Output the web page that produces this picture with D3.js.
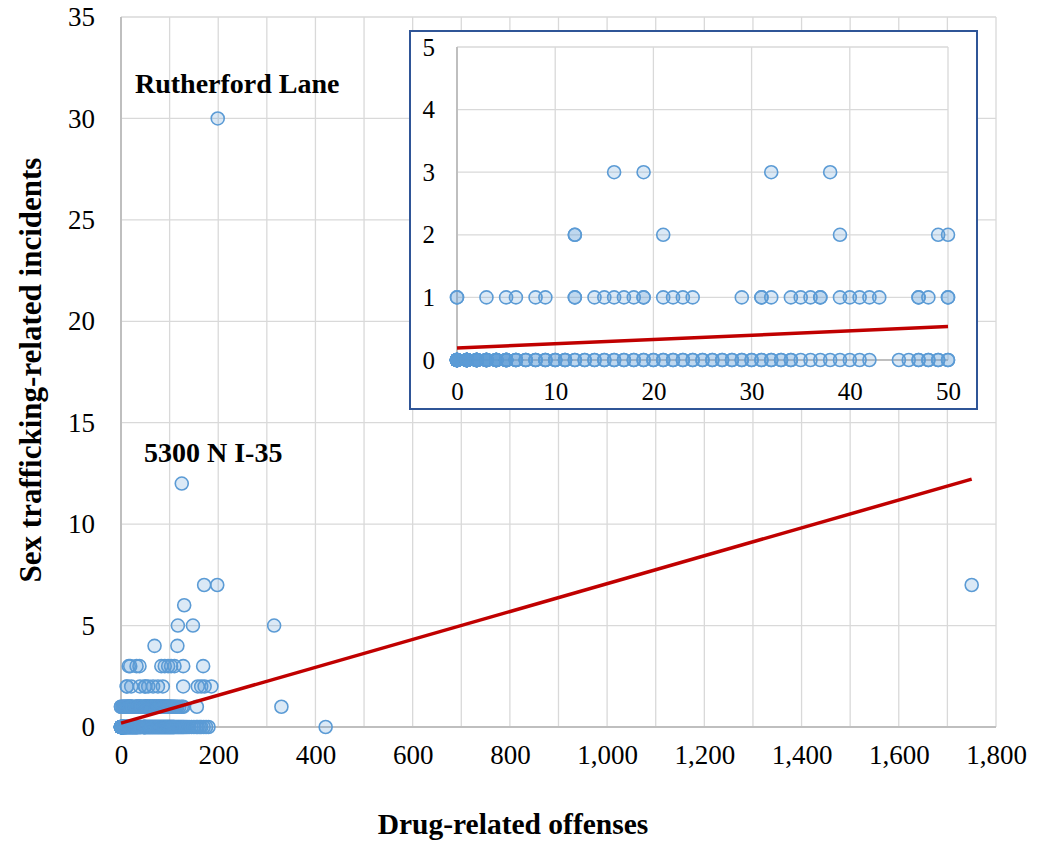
<!DOCTYPE html>
<html>
<head>
<meta charset="utf-8">
<script src="https://cdn.jsdelivr.net/npm/d3@7"></script>
<style>
  html, body { margin: 0; padding: 0; background: #fff; }
  svg { display: block; }
  text { font-family: "Liberation Serif", "Times New Roman", serif; fill: #000; }
</style>
</head>
<body>
<svg id="chart" width="1038" height="843"></svg>
<script>
// ---- Data (drug-related offenses for each level of sex-trafficking incidents) ----
const drugAtZero = [
  0,0,0,0,0,0,0,0,0,0,0,0,0,0,0,0,0,0,0,0,0,0,0,0,0,0,0,0,0,0,
  1,1,1,1,1,1,1,1,1,1,1,1,1,1,1,1,1,1,1,1,
  2,2,2,2,2,2,2,2,2,2,2,2,2,2,2, 3,3,3,3,3,3,3,3,3,3,3,3,
  4,4,4,4,4,4,4,4,4,4, 5,5,5,5,5,5,5,5,
  6,6,6,6, 7,7,7, 8,8,8, 9,9,9, 10,10,10, 11,11,11,
  12,12,13,13,14,14,15,15,16,16,17,17,18,18,19,19,20,20,21,21,22,22,23,23,24,24,
  25,25,26,26,27,27,28,28,29,29,30,30,31,31,32,32,33,33,34,34,
  35,36,37,38,39,40,41,42, 45,46,47,47,48,48,49,49,50,50,
  51,52,53,54,55,56,57,58,59,60,61,62,63,64,65,66,67,68,69,70,71,72,73,74,75,
  76,77,78,79,80,81,82,83,84,85,86,87,88,89,90,91,92,93,94,95,96,97,98,99,100,
  101,102,103,104,105,106,107,108,109,110,112,114,116,118,120,122,124,126,128,130,
  133,136,140,145,150,155,158,162,165,170,175,180, 421
];
const drugAtOne = [
  0,0,3,5,6,8,9,12,12,14,15,16,17,18,19,19,21,22,23,24,29,31,31,32,34,35,36,37,37,
  39,40,41,42,43,47,47,48,50,50,
  51,52,53,54,55,56,57,58,59,60,61,62,63,64,65,66,67,68,69,70,71,72,73,74,75,76,
  77,78,79,80,81,82,83,84,85,86,87,88,89,90,91,92,93,94,95,96,97,98,99,100,
  102,104,106,108,110,113,116,120,125,128,156,330
];
const drugAtTwo = [12,12,21,39,49,50,56,66,76,86,128,158,165,172,186];
const drugAtThree = [16,19,32,38,83,90,97,103,110,128,169];
const drugAtFour = [69,116];
const drugAtFive = [117,148,315];
const drugAtSix = [130];
const drugAtSeven = [171,198,1750];
const drugAtTwelve = [125];
const drugAtThirty = [199];

const incidentLevels = [0,1,2,3,4,5,6,7,12,30];
const drugByLevel = [drugAtZero, drugAtOne, drugAtTwo, drugAtThree, drugAtFour,
                     drugAtFive, drugAtSix, drugAtSeven, drugAtTwelve, drugAtThirty];

// Linear trend line: endpoints
const trendX = [0, 1750];
const trendY = [0.19, 12.22];

// Tick values
const mainXTicks = [0,200,400,600,800,1000,1200,1400,1600,1800];
const mainYTicks = [0,5,10,15,20,25,30,35];
const insetXTicks = [0,10,20,30,40,50];
const insetYTicks = [0,1,2,3,4,5];

// Annotations
const annotations = [
  {text: "Rutherford Lane", x: 135, y: 93},
  {text: "5300 N I-35", x: 144, y: 462}
];

const points = [];
incidentLevels.forEach((lvl, i) => drugByLevel[i].forEach(d => points.push({x: d, y: lvl})));

// ---- Drawing ----
const svg = d3.select("#chart");
const gridColor = "#D9D9D9";
const axisColor = "#BFBFBF";
const markerStroke = "#5B9BD5";
const markerFill = "#5B9BD5";
const markerFillOpacity = 0.22;
const trendColor = "#C00000";

// Main scales
const x = d3.scaleLinear().domain([0, 1800]).range([121, 996]);
const y = d3.scaleLinear().domain([0, 35]).range([727, 17]);

const main = svg.append("g");
main.append("g").selectAll("line").data(d3.range(0, 1801, 100)).join("line")
  .attr("x1", d => x(d)).attr("x2", d => x(d)).attr("y1", y(35)).attr("y2", y(0))
  .attr("stroke", gridColor).attr("stroke-width", 1.3);
main.append("g").selectAll("line").data(mainYTicks).join("line")
  .attr("x1", x(0)).attr("x2", x(1800)).attr("y1", d => y(d)).attr("y2", d => y(d))
  .attr("stroke", gridColor).attr("stroke-width", 1.3);
main.append("line").attr("x1", x(0)).attr("x2", x(0)).attr("y1", y(35)).attr("y2", y(0))
  .attr("stroke", axisColor).attr("stroke-width", 2);
main.append("line").attr("x1", x(0)).attr("x2", x(1800)).attr("y1", y(0)).attr("y2", y(0))
  .attr("stroke", axisColor).attr("stroke-width", 2);

const xAxis = main.append("g").attr("transform", `translate(0,${y(0)})`)
  .call(d3.axisBottom(x).tickValues(mainXTicks).tickSize(0).tickPadding(34).tickFormat(d3.format(",")));
const yAxis = main.append("g").attr("transform", `translate(${x(0)},0)`)
  .call(d3.axisLeft(y).tickValues(mainYTicks).tickSize(0).tickPadding(26).tickFormat(d3.format("d")));
[xAxis, yAxis].forEach(a => {
  a.select(".domain").remove();
  a.selectAll("text").attr("font-family", "Liberation Serif").attr("font-size", 27).attr("fill", "#000");
});
xAxis.selectAll("text").attr("dy", "0.1em");

function drawMarkers(g, data, sx, sy) {
  g.append("g").selectAll("circle").data(data).join("circle")
    .attr("cx", d => sx(d.x)).attr("cy", d => sy(d.y)).attr("r", 6.5)
    .style("fill", markerFill).style("fill-opacity", markerFillOpacity)
    .style("stroke", markerStroke).style("stroke-width", 1.6);
}
drawMarkers(main, points, x, y);

main.append("line")
  .attr("x1", x(trendX[0])).attr("y1", y(trendY[0]))
  .attr("x2", x(trendX[1])).attr("y2", y(trendY[1]))
  .attr("stroke", trendColor).attr("stroke-width", 3.5);

main.selectAll("text.ann").data(annotations).join("text").attr("class", "ann")
  .attr("x", d => d.x).attr("y", d => d.y).text(d => d.text)
  .attr("font-size", 28).attr("font-weight", "bold");

svg.append("text").attr("x", 513).attr("y", 834).attr("text-anchor", "middle")
  .attr("font-size", 29.5).attr("font-weight", "bold").text("Drug-related offenses");
svg.append("text").attr("transform", "translate(41,370) rotate(-90)").attr("text-anchor", "middle")
  .attr("font-size", 31).attr("font-weight", "bold").text("Sex trafficking-related incidents");

// ---- Inset ----
const inset = svg.append("g");
inset.append("rect").attr("x", 410).attr("y", 31).attr("width", 567).attr("height", 378)
  .attr("fill", "#fff").attr("stroke", "#2F5597").attr("stroke-width", 2);

const xi = d3.scaleLinear().domain([0, 50]).range([457, 948]);
const yi = d3.scaleLinear().domain([0, 5]).range([360, 47]);

inset.append("g").selectAll("line").data(insetXTicks).join("line")
  .attr("x1", d => xi(d)).attr("x2", d => xi(d)).attr("y1", yi(5)).attr("y2", yi(0))
  .attr("stroke", gridColor).attr("stroke-width", 1.3);
inset.append("g").selectAll("line").data(insetYTicks).join("line")
  .attr("x1", xi(0)).attr("x2", xi(50)).attr("y1", d => yi(d)).attr("y2", d => yi(d))
  .attr("stroke", gridColor).attr("stroke-width", 1.3);
inset.append("line").attr("x1", xi(0)).attr("x2", xi(0)).attr("y1", yi(5)).attr("y2", yi(0))
  .attr("stroke", axisColor).attr("stroke-width", 2);
inset.append("line").attr("x1", xi(0)).attr("x2", xi(50)).attr("y1", yi(0)).attr("y2", yi(0))
  .attr("stroke", axisColor).attr("stroke-width", 2);

const xiAxis = inset.append("g").attr("transform", `translate(0,${yi(0)})`)
  .call(d3.axisBottom(xi).tickValues(insetXTicks).tickSize(0).tickPadding(22).tickFormat(d3.format("d")));
const yiAxis = inset.append("g").attr("transform", `translate(${xi(0)},0)`)
  .call(d3.axisLeft(yi).tickValues(insetYTicks).tickSize(0).tickPadding(22).tickFormat(d3.format("d")));
[xiAxis, yiAxis].forEach(a => {
  a.select(".domain").remove();
  a.selectAll("text").attr("font-family", "Liberation Serif").attr("font-size", 25).attr("fill", "#000");
});

const insetPoints = points.filter(d => d.x <= 50 && d.y <= 5);
drawMarkers(inset, insetPoints, xi, yi);

const slope = (trendY[1] - trendY[0]) / (trendX[1] - trendX[0]);
inset.append("line")
  .attr("x1", xi(0)).attr("y1", yi(trendY[0]))
  .attr("x2", xi(50)).attr("y2", yi(trendY[0] + slope * 50))
  .attr("stroke", trendColor).attr("stroke-width", 3.5);
</script>
</body>
</html>
